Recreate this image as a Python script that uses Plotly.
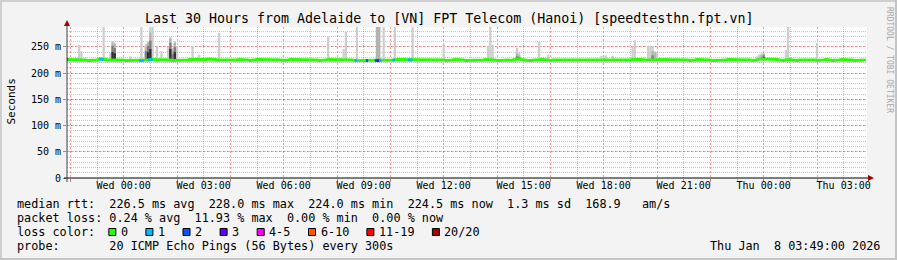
import plotly.graph_objects as go
import pandas as pd

# ---------------- data ----------------
SAMPLE_START = "2026-01-06 21:50"   # first 5-minute sample
SAMPLE_STEP_MIN = 5
RANGE_START = "2026-01-06 21:52:30"
RANGE_END = "2026-01-08 03:52:30"

# median rtt per 5-minute sample (ms)
median_ms = [
 226,226,225,225,225,225,225,225,225,225,224,224,224,225,225,227,227,226,226,225,225,226,226,226,
 226,226,225,224,224,225,225,225,225,224,224,224,225,225,226,226,226,225,225,225,225,225,225,225,
 224,224,225,225,225,225,225,225,226,226,226,225,225,225,225,226,227,227,226,226,225,225,225,225,
 225,225,225,224,225,225,226,226,225,225,225,224,225,225,226,226,226,225,225,225,225,226,226,225,
 225,225,224,224,225,226,226,226,225,225,225,225,225,226,226,226,225,225,224,224,225,225,226,226,
 226,226,225,225,225,225,225,226,226,225,224,224,225,225,224,224,224,225,225,224,224,224,225,225,
 225,225,225,225,225,226,226,225,225,225,225,225,225,225,225,225,225,226,226,226,225,225,225,225,
 225,225,225,224,224,225,225,226,226,225,225,225,224,224,224,225,225,225,225,225,225,226,226,226,
 226,225,224,224,225,225,225,225,225,225,226,227,227,226,225,225,224,224,225,225,225,226,226,226,
 225,225,224,225,225,225,225,224,224,225,225,225,225,224,224,225,225,225,225,224,224,225,225,225,
 225,225,224,224,225,225,225,225,225,225,225,224,224,225,225,226,226,226,227,226,225,225,225,224,
 224,225,225,226,226,226,226,226,226,226,226,226,226,226,225,225,225,224,224,225,226,226,226,225,
 225,225,225,224,224,225,225,224,224,225,226,226,226,225,225,225,226,226,226,225,225,224,224,225,
 227,227,227,226,226,226,226,226,226,225,224,224,225,226,226,225,224,224,225,225,226,226,226,226,
 226,225,224,224,225,225,226,226,225,224,224,225,225,226,226,226,226,225,225,224,224,224,225,225,225,
]

# samples with packet loss (lost pings out of 20)
loss_time = ["2026-01-06 21:50", "2026-01-06 23:05", "2026-01-06 23:10",
             "2026-01-07 00:35", "2026-01-07 00:40", "2026-01-07 00:55", "2026-01-07 01:00",
             "2026-01-07 08:40", "2026-01-07 09:05", "2026-01-07 09:25", "2026-01-07 09:30",
             "2026-01-07 09:35", "2026-01-07 10:05", "2026-01-07 10:40", "2026-01-07 10:45"]
loss_count = [2, 1, 1, 1, 1, 1, 1, 1, 2, 2, 3, 1, 1, 1, 1]

# smoke spikes: top of light smoke (max ping), medium, dark and core smoke tops (0 = none)
spike_time = [
 "2026-01-06 22:20", "2026-01-06 22:25", "2026-01-06 23:15", "2026-01-06 23:30",
 "2026-01-06 23:35", "2026-01-06 23:40", "2026-01-07 00:15", "2026-01-07 00:40",
 "2026-01-07 00:50", "2026-01-07 00:55", "2026-01-07 01:00", "2026-01-07 01:05",
 "2026-01-07 01:15", "2026-01-07 01:25", "2026-01-07 01:40", "2026-01-07 01:45",
 "2026-01-07 01:50", "2026-01-07 01:55", "2026-01-07 02:00", "2026-01-07 02:35",
 "2026-01-07 02:50", "2026-01-07 03:35", "2026-01-07 07:40", "2026-01-07 08:15",
 "2026-01-07 08:20", "2026-01-07 08:45", "2026-01-07 09:30", "2026-01-07 09:35",
 "2026-01-07 09:45", "2026-01-07 10:10", "2026-01-07 10:50", "2026-01-07 12:00",
 "2026-01-07 13:40", "2026-01-07 13:45", "2026-01-07 13:50", "2026-01-07 14:45",
 "2026-01-07 14:50", "2026-01-07 15:35", "2026-01-07 15:55", "2026-01-07 17:55",
 "2026-01-07 18:00", "2026-01-07 18:05", "2026-01-07 18:20", "2026-01-07 19:05",
 "2026-01-07 19:10", "2026-01-07 19:30", "2026-01-07 19:40", "2026-01-07 19:45",
 "2026-01-07 19:50", "2026-01-07 19:55", "2026-01-07 20:00", "2026-01-07 23:45",
 "2026-01-07 23:50", "2026-01-07 23:55", "2026-01-08 00:00", "2026-01-08 00:50",
 "2026-01-08 00:55", "2026-01-08 02:00",
]
spike_max = [254, 242, 290, 238, 261, 258, 232, 290, 256, 261, 290, 290,
             250, 242, 250, 270, 248, 261, 252, 252, 235, 277, 270, 246,
             279, 290, 290, 290, 290, 290, 290, 256, 252, 290, 254, 248,
             240, 260, 235, 233, 233, 234, 233, 250, 263, 231, 252, 252,
             252, 242, 240, 232, 236, 238, 238, 244, 290, 258]
spike_mid = [0, 0, 0, 0, 258, 255, 0, 0, 250, 258, 277, 0,
             0, 0, 0, 266, 244, 258, 0, 0, 0, 0, 0, 0,
             0, 0, 290, 290, 0, 0, 0, 0, 0, 0, 0, 238,
             234, 0, 0, 0, 0, 0, 0, 0, 0, 0, 0, 0,
             242, 238, 0, 0, 0, 234, 237, 0, 0, 0]
spike_dark = [0, 0, 0, 0, 252, 248, 0, 0, 242, 252, 262, 0,
              0, 0, 0, 258, 236, 250, 0, 0, 0, 0, 0, 0,
              0, 0, 0, 0, 0, 0, 0, 0, 0, 0, 0, 232,
              230, 0, 0, 0, 0, 0, 0, 0, 0, 0, 0, 0,
              234, 0, 0, 0, 0, 0, 234, 0, 0, 0]
spike_core = [0, 0, 0, 0, 240, 238, 0, 0, 0, 240, 246, 0,
              0, 0, 0, 246, 0, 240, 0, 0, 0, 0, 0, 0,
              0, 0, 0, 0, 0, 0, 0, 0, 0, 0, 0, 0,
              0, 0, 0, 0, 0, 0, 0, 0, 0, 0, 0, 0,
              0, 0, 0, 0, 0, 0, 230, 0, 0, 0]

loss_labels = ["0", "1", "2", "3", "4-5", "6-10", "11-19", "20/20"]
loss_colors = ["#26ff00", "#00b8ff", "#0059ff", "#5e00ff", "#ff00ff", "#ff5500", "#ff0000", "#a10000"]
loss_upper = [0, 1, 2, 3, 5, 10, 19, 20]

y_tick_vals = [0, 50, 100, 150, 200, 250]
y_tick_text = ["0", "50 m", "100 m", "150 m", "200 m", "250 m"]

title_text = "Last 30 Hours from Adelaide to [VN] FPT Telecom (Hanoi) [speedtesthn.fpt.vn]"
legend_lines = [
    "median rtt:  226.5 ms avg  228.0 ms max  224.0 ms min  224.5 ms now  1.3 ms sd  168.9   am/s",
    "packet loss: 0.24 % avg  11.93 % max  0.00 % min  0.00 % now",
    "loss color:",
    "probe:       20 ICMP Echo Pings (56 Bytes) every 300s",
]
date_text = "Thu Jan  8 03:49:00 2026"

# ---------------- derived ----------------
t0 = pd.Timestamp(SAMPLE_START)
step = pd.Timedelta(minutes=SAMPLE_STEP_MIN)
times = [t0 + step * i for i in range(len(median_ms))]

def idx_of(ts):
    return int(round((pd.Timestamp(ts) - t0) / step))

def loss_color(n):
    for up, c in zip(loss_upper, loss_colors):
        if n <= up:
            return c
    return loss_colors[-1]

FONT = "DejaVu Sans Mono"
W, H = 897, 260
PL, PR, PT, PB = 67, 867, 27, 178

def xp(px):
    return (px - PL) / (PR - PL)

def yp(py):
    return (PB - py) / (PB - PT)

fig = go.Figure()

bar_w = SAMPLE_STEP_MIN * 60 * 1000 * 1.0
sp_x = [pd.Timestamp(t) for t in spike_time]
sp_base = [median_ms[idx_of(t)] for t in spike_time]

def add_bars(tops, color):
    xs, ys, bs = [], [], []
    for x, top, b in zip(sp_x, tops, sp_base):
        if top and top > b:
            xs.append(x); ys.append(top - b); bs.append(b)
    fig.add_trace(go.Bar(x=xs, y=ys, base=bs, width=bar_w, marker=dict(color=color, line=dict(width=0)),
                         hoverinfo="skip", showlegend=False))

add_bars(spike_max, "#cdcdcd")
add_bars(spike_mid, "#b2b2b2")
add_bars(spike_dark, "#7c7c7c")
add_bars(spike_core, "#2e2e2e")

fig.add_trace(go.Scatter(x=times, y=median_ms, mode="lines", line=dict(color=loss_colors[0], width=3),
                         hoverinfo="skip", showlegend=False))

for t, n in zip(loss_time, loss_count):
    i = idx_of(t)
    j = min(i + 1, len(median_ms) - 1)
    fig.add_trace(go.Scatter(x=[times[i], times[j]], y=[median_ms[i], median_ms[j]], mode="lines",
                             line=dict(color=loss_color(n), width=3), hoverinfo="skip", showlegend=False))

# invisible trace for the label axis
fig.add_trace(go.Scatter(x=[pd.Timestamp(RANGE_START)], y=[0], xaxis="x2", mode="markers",
                         marker=dict(opacity=0), hoverinfo="skip", showlegend=False))

RED = "rgba(255,0,0,0.40)"
GREY = "rgba(0,0,0,0.22)"

fig.update_layout(
    width=W, height=H,
    margin=dict(l=PL, r=W - PR, t=PT, b=H - PB, pad=0),
    paper_bgcolor="#f3f3f3", plot_bgcolor="#ffffff",
    barmode="overlay",
    showlegend=False,
    font=dict(family=FONT, size=10, color="#000000"),
    xaxis=dict(type="date", range=[RANGE_START, RANGE_END], showticklabels=False,
               showgrid=True, gridcolor=RED, griddash="2px,2px", gridwidth=1,
               tick0="2026-01-06 22:00", dtick=2 * 3600000,
               ticks="outside", ticklen=3, tickcolor="#909090",
               minor=dict(tick0="2026-01-06 22:00", dtick=3600000, showgrid=True, gridcolor=GREY,
                          griddash="1px,1px", ticks="outside", ticklen=2, tickcolor="#b0b0b0"),
               zeroline=False, showline=False, fixedrange=True),
    xaxis2=dict(type="date", overlaying="x", side="bottom", range=[RANGE_START, RANGE_END],
                showgrid=False, tick0="2026-01-07 00:00", dtick=3 * 3600000,
                tickformat="%a %H:%M", tickfont=dict(family=FONT, size=10), ticks="",
                zeroline=False, showline=False),
    yaxis=dict(range=[0, 288], tickvals=y_tick_vals, ticktext=y_tick_text,
               showgrid=True, gridcolor=RED, griddash="2px,2px", gridwidth=1,
               minor=dict(dtick=10, showgrid=True, gridcolor=GREY, griddash="1px,1px"),
               ticks="outside", ticklen=3, tickcolor="#909090",
               tickfont=dict(family=FONT, size=10), zeroline=False, showline=False),
)

shapes = []
# frame around the whole image
for (x0, y0, x1, y1, c) in [(0, 0, W, 2, "#cfcfcf"), (0, 0, 2, H, "#cfcfcf"),
                            (W - 2, 0, W, H, "#c4c4c4"), (0, H - 2, W, H, "#c4c4c4")]:
    shapes.append(dict(type="rect", xref="paper", yref="paper", x0=xp(x0), x1=xp(x1), y0=yp(y0), y1=yp(y1),
                       fillcolor=c, line=dict(width=0), layer="above"))
# axes lines
shapes.append(dict(type="line", xref="paper", yref="paper", x0=xp(64), x1=xp(869), y0=0, y1=0,
                   line=dict(color="#000000", width=1), layer="above"))
shapes.append(dict(type="line", xref="paper", yref="paper", x0=0, x1=0, y0=yp(182), y1=yp(24),
                   line=dict(color="#404040", width=1), layer="above"))
# arrow heads
shapes.append(dict(type="path", xref="paper", yref="paper",
                   path=f"M {xp(64)},{yp(26)} L {xp(70)},{yp(26)} L {xp(67)},{yp(20)} Z",
                   fillcolor="#a00000", line=dict(width=0), layer="above"))
shapes.append(dict(type="path", xref="paper", yref="paper",
                   path=f"M {xp(868)},{yp(175)} L {xp(868)},{yp(181)} L {xp(874)},{yp(178)} Z",
                   fillcolor="#a00000", line=dict(width=0), layer="above"))

annotations = []
annotations.append(dict(text=title_text, xref="paper", yref="paper", x=xp(448.5), y=yp(19),
                        xanchor="center", yanchor="middle", showarrow=False, borderpad=0,
                        font=dict(family=FONT, size=13.3, color="#000000")))
annotations.append(dict(text="Seconds", xref="paper", yref="paper", x=xp(10.5), y=yp(102), textangle=-90,
                        xanchor="center", yanchor="middle", showarrow=False, borderpad=0,
                        font=dict(family=FONT, size=11, color="#000000")))
annotations.append(dict(text="RRDTOOL / TOBI OETIKER", xref="paper", yref="paper", x=xp(890), y=yp(60),
                        textangle=90, xanchor="center", yanchor="middle", showarrow=False, borderpad=0,
                        font=dict(family=FONT, size=8, color="#a8a8a8")))

LEG_SIZE = 11.8
CW = 7.1
line_y = [204, 218, 232, 246]
for txt, py in zip(legend_lines, line_y):
    annotations.append(dict(text=txt.replace(" ", "&nbsp;"), xref="paper", yref="paper", x=xp(16), y=yp(py),
                            xanchor="left", yanchor="middle", showarrow=False, borderpad=0,
                            font=dict(family=FONT, size=LEG_SIZE, color="#000000")))
annotations.append(dict(text=date_text.replace(" ", "&nbsp;"), xref="paper", yref="paper", x=xp(881), y=yp(246),
                        xanchor="right", yanchor="middle", showarrow=False, borderpad=0,
                        font=dict(family=FONT, size=LEG_SIZE, color="#000000")))

# loss colour legend
bx = 108.3
for lab, col in zip(loss_labels, loss_colors):
    shapes.append(dict(type="rect", xref="paper", yref="paper", x0=xp(bx + 0.5), x1=xp(bx + 7.5),
                       y0=yp(235.5), y1=yp(228.5), fillcolor=col, line=dict(color="#000000", width=1),
                       layer="above"))
    annotations.append(dict(text=lab, xref="paper", yref="paper", x=xp(bx + 11.5), y=yp(232),
                            xanchor="left", yanchor="middle", showarrow=False, borderpad=0,
                            font=dict(family=FONT, size=LEG_SIZE, color="#000000")))
    bx += 10 + len(lab) * CW + 20

fig.update_layout(shapes=shapes, annotations=annotations)
fig.write_html("out.html")
